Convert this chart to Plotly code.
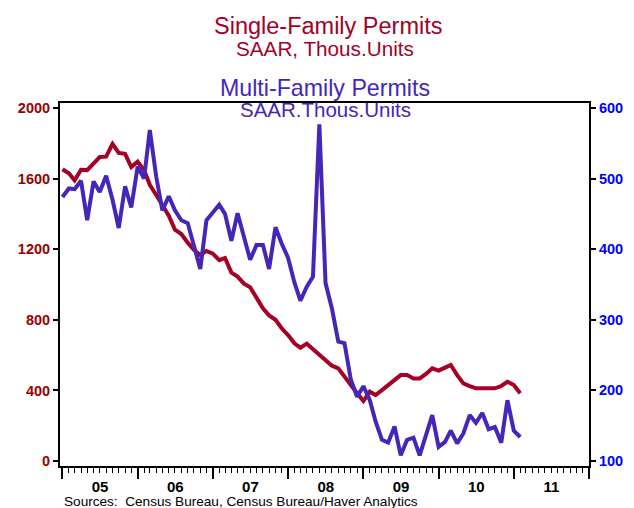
import pandas as pd
import plotly.graph_objects as go

months = pd.date_range("2005-01-01", periods=74, freq="MS")

single_family = [
    1653, 1630, 1590, 1650, 1648, 1690, 1722, 1724, 1796, 1745, 1740, 1665,
    1696, 1649, 1565, 1507, 1450, 1390, 1310, 1286, 1237, 1196, 1167, 1190,
    1175, 1138, 1150, 1067, 1045, 1005, 985, 930, 865, 825, 800, 752,
    714, 667, 642, 665, 633, 601, 568, 540, 525, 482, 431, 384,
    340, 393, 374, 402, 431, 463, 487, 487, 468, 468, 493, 525,
    512, 529, 544, 487, 440, 425, 412, 412, 412, 412, 425, 449,
    431, 384,
]

multi_family = [
    474, 486, 485, 497, 441, 496, 481, 504, 470, 430, 489, 459,
    517, 500, 569, 503, 455, 475, 455, 441, 437, 404, 372, 441,
    451, 463, 450, 412, 451, 416, 385, 406, 406, 372, 431, 408,
    388, 353, 327, 347, 361, 577, 352, 316, 269, 267, 215, 191,
    206, 186, 156, 130, 126, 149, 108, 130, 133, 108, 137, 165,
    120, 127, 143, 125, 139, 165, 154, 168, 145, 148, 126, 186,
    143, 134,
]

left_ticks = [0, 400, 800, 1200, 1600, 2000]
right_ticks = [100, 200, 300, 400, 500, 600]

RED = "#A50026"
PURPLE = "#4526B8"
FONT = "Liberation Sans, Arial, Helvetica, sans-serif"

fig = go.Figure()
fig.add_trace(go.Scatter(x=months, y=single_family, mode="lines",
                         line=dict(color=RED, width=4), yaxis="y",
                         showlegend=False, name="Single-Family Permits"))
fig.add_trace(go.Scatter(x=months, y=multi_family, mode="lines",
                         line=dict(color=PURPLE, width=4), yaxis="y2",
                         showlegend=False, name="Multi-Family Permits"))

# page body has an 8px default margin; work in page pixels and convert
OFF = 8
PAGE_W, PAGE_H = 634, 508
W, H = PAGE_W - OFF, PAGE_H - OFF
PLOT_L, PLOT_R, PLOT_T, PLOT_B = 59.5, 589, 103, 466  # page pixels
L = PLOT_L - OFF
T = PLOT_T - OFF
R = W - (PLOT_R - OFF)
B = H - (PLOT_B - OFF)
pw, ph = PLOT_R - PLOT_L, PLOT_B - PLOT_T


def px_x(x):
    return (x - PLOT_L) / pw


def px_y(y):
    return (PLOT_B - y) / ph


fig.update_layout(
    width=W, height=H,
    margin=dict(l=L, r=R, t=T, b=B, autoexpand=False),
    paper_bgcolor="white", plot_bgcolor="white",
    font=dict(family=FONT, color="black"),
    xaxis=dict(
        type="date", range=["2004-12-20", "2012-01-01"], automargin=False,
        tickmode="linear", tick0="2005-01-01", dtick="M12",
        ticklabelmode="period", tickformat="%y", ticklabelstandoff=-5,
        ticks="outside", ticklen=11, tickwidth=1.5, tickcolor="black",
        minor=dict(dtick="M1", tick0="2005-01-01", ticks="outside", ticklen=5,
                   tickwidth=1, tickcolor="black", showgrid=False),
        tickfont=dict(family=FONT, size=15, color="black", weight="bold"),
        showgrid=False, zeroline=False,
        showline=True, mirror=True, linecolor="black", linewidth=2,
    ),
    yaxis=dict(
        range=[-28, 2028], tickmode="array", tickvals=left_ticks, automargin=False,
        ticks="outside", ticklen=5, tickwidth=1.5, tickcolor="black",
        tickfont=dict(family=FONT, size=14.5, color="#9B0000", weight="bold"),
        showgrid=False, zeroline=False,
        showline=True, linecolor="black", linewidth=2,
    ),
    yaxis2=dict(
        range=[92.9, 607.1], overlaying="y", side="right", automargin=False,
        tickmode="array", tickvals=right_ticks,
        ticks="outside", ticklen=5, tickwidth=1.5, tickcolor="black",
        tickfont=dict(family=FONT, size=14.5, color="#0000FF", weight="bold"),
        showgrid=False, zeroline=False,
        showline=True, linecolor="black", linewidth=2,
    ),
)

titles = [
    ("Single-Family Permits", 328, 35.5, 23.5, RED),
    ("SAAR, Thous.Units", 325, 57, 20.7, RED),
    ("Multi-Family Permits", 325, 97, 23.2, PURPLE),
    ("SAAR.Thous.Units", 325, 118, 20.5, PURPLE),
]
for text, cx, base, size, color in titles:
    fig.add_annotation(
        text=text, xref="paper", yref="paper",
        x=px_x(cx), y=px_y(base + 0.212 * size + 1),
        xanchor="center", yanchor="bottom", showarrow=False,
        font=dict(family=FONT, size=size, color=color),
    )

fig.add_annotation(
    text="Sources:  Census Bureau, Census Bureau/Haver Analytics",
    xref="paper", yref="paper", x=px_x(62), y=px_y(501),
    xanchor="left", yanchor="middle", showarrow=False,
    font=dict(family=FONT, size=13.6, color="black"),
)

fig.write_html("out.html")
